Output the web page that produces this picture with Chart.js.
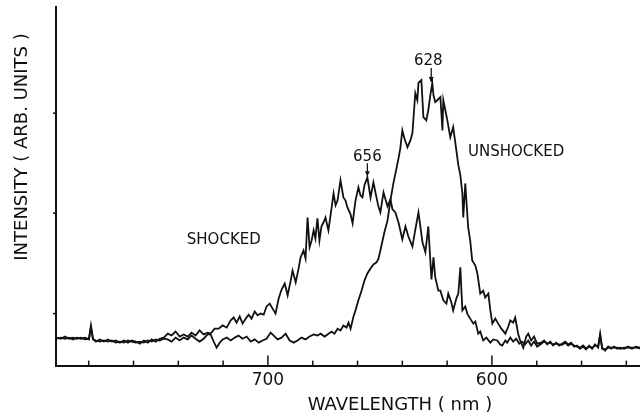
<!DOCTYPE html>
<html>
<head>
<meta charset="utf-8">
<script src="https://cdn.jsdelivr.net/npm/chart.js@4.4.1/dist/chart.umd.min.js"></script>
<style>
  html, body { margin: 0; padding: 0; background: #fff; }
  #wrap { width: 640px; height: 420px; }
</style>
</head>
<body>
<div id="wrap"><canvas id="spec" width="640" height="420"></canvas></div>
<script>
// Eje x: longitud de onda (nm), invertido
const xTickValues = [780, 760, 740, 720, 700, 680, 660, 640, 620, 600, 580, 560, 540];
const xLabeled = [700, 600];
const yTickValues = [14.5, 42.5, 70.4];

// Espectro SHOCKED
const shockedWl = [
  794.1, 792.4, 790.6, 788.8, 787.0, 785.3, 783.5, 781.7, 779.9, 779.0, 778.1, 776.8, 775.0, 773.2, 771.4,
  769.7, 767.9, 766.1, 764.3, 762.5, 760.8, 759.0, 757.2, 755.4, 753.6, 751.9, 750.1, 748.3, 746.5,
  744.7, 743.0, 741.2, 739.4, 737.6, 735.8, 734.1, 732.3, 730.5, 728.7, 726.9, 725.6, 723.8, 722.0, 720.2,
  718.4, 716.6, 715.3, 714.0, 712.6, 711.3, 709.9, 708.6, 707.3, 705.9, 704.6, 703.3, 701.9, 700.6, 699.2,
  697.9, 696.6, 695.2, 693.9, 692.5, 691.2, 689.9, 689.0, 687.6, 686.3, 685.4, 684.1, 683.2, 682.3, 681.4,
  680.5, 679.6, 678.8, 677.9, 677.0, 676.1, 675.2, 674.3, 673.0, 672.1, 670.7, 669.8, 668.9, 667.6, 666.3,
  665.4, 664.5, 663.1, 662.2, 660.9, 659.6, 658.7, 657.8, 656.9, 655.6, 654.2, 652.9, 652.0, 650.7, 649.8,
  648.4, 646.6, 645.3, 644.4, 643.1, 641.7, 640.0, 638.6, 637.3, 635.5, 634.2, 632.8, 631.0, 629.7, 628.4,
  627.5, 627.0, 626.1, 625.3, 623.9, 623.0, 621.7, 620.3, 619.5, 618.1, 617.3, 615.9, 615.0, 614.1, 613.2,
  611.9, 611.0, 609.7, 608.3, 607.4, 606.1, 605.2, 603.9, 602.5, 600.7, 599.4, 597.6, 596.3, 595.4, 594.0,
  593.2, 591.8, 590.5, 589.2, 587.8, 586.5, 585.2, 583.8, 582.5, 581.2, 579.8,
  578.0, 576.7, 575.3, 574.0, 572.7, 571.3, 570.0, 568.7, 567.3, 566.0, 564.7, 563.3, 562.0, 560.7, 559.3,
  558.0, 556.6, 555.3, 554.0, 552.6, 551.7, 550.8, 549.5, 548.1, 546.8, 545.5, 544.1, 542.8, 541.0, 539.2,
  537.5, 535.7, 533.9
];
const shockedI = [
  7.8, 7.5, 8.1, 7.5, 7.8, 7.5, 7.8, 7.3, 7.5, 11.2, 7.5, 6.7, 7.3, 6.7, 7.3,
  6.7, 7.0, 6.4, 7.0, 6.4, 7.0, 6.7, 6.1, 7.0, 6.4, 7.3, 6.7, 7.5, 7.8,
  8.9, 8.4, 9.5, 8.1, 8.7, 8.1, 9.2, 8.4, 9.8, 8.7, 9.2, 8.9, 10.3, 10.3, 11.2,
  10.6, 12.6, 13.4, 12.0, 13.7, 11.7, 13.1, 14.2, 13.1, 15.1, 14.0, 14.5, 14.2, 16.5, 17.3,
  15.9, 14.5, 18.7, 21.2, 22.9, 19.6, 23.5, 26.5, 23.2, 27.1, 30.2, 32.1, 29.9, 41.3, 33.0,
  34.9, 37.7, 35.5, 41.1, 34.9, 38.8, 39.9, 41.3, 37.7, 41.6, 48.0, 44.7, 46.1, 51.7, 46.9,
  46.1, 44.1, 42.2, 39.7, 46.1, 49.7, 47.5, 46.9, 50.3, 52.5, 46.9, 51.1, 48.3, 44.4, 42.7,
  48.3, 44.4, 46.4, 43.6, 42.7, 39.9, 35.2, 38.8, 36.0, 33.2, 37.9, 42.7, 34.4, 31.6, 38.8,
  29.3, 24.0, 30.2, 24.6, 20.9, 20.9, 18.2, 17.3, 20.1, 17.6, 15.4, 18.7, 20.1, 27.4, 15.4,
  16.5, 14.5, 13.1, 11.7, 12.3, 8.9, 9.5, 7.0, 7.8, 6.4, 7.3, 7.0, 5.9, 5.6, 7.0,
  6.4, 7.8, 6.7, 7.5, 6.1, 6.7, 5.9, 7.0, 5.6, 6.7, 5.3,
  6.1, 6.7, 6.2, 6.4, 5.9, 6.1, 5.9, 5.8, 6.4, 5.6, 6.1, 5.6, 5.3, 5.0, 5.6,
  4.8, 5.3, 5.0, 5.6, 5.3, 8.4, 4.7, 4.5, 5.0, 5.0, 5.0, 5.0, 4.7, 5.0, 5.0,
  5.0, 5.0, 4.8
];

// Espectro UNSHOCKED
const unshockedWl = [
  794.1, 792.4, 790.6, 788.8, 787.0, 785.3, 783.5, 781.7, 779.9, 779.0, 778.1, 776.8, 775.0, 773.2, 771.4,
  769.7, 767.9, 766.1, 764.3, 762.5, 760.8, 759.0, 757.2, 755.4, 753.6, 751.9, 750.1, 748.3, 746.5,
  744.7, 743.0, 741.2, 739.4, 737.6, 735.8, 734.1, 732.3, 730.5, 728.7, 726.9, 725.6, 724.2, 722.9, 721.5,
  720.2, 718.4, 716.6, 714.8, 713.1, 711.3, 709.5, 707.7, 705.9, 704.1, 702.4, 700.6, 698.8, 697.5, 695.7,
  693.9, 692.1, 690.3, 688.5, 686.8, 685.0, 683.2, 681.4, 679.6, 677.9, 676.5, 674.7, 673.4, 671.6, 670.3,
  668.9, 667.6, 666.3, 664.9, 664.0, 663.1, 661.8, 660.9, 659.6, 658.2, 656.9, 655.6, 654.2, 652.9, 651.5,
  650.6, 649.3, 648.0, 646.6, 645.3, 644.0, 642.6, 641.7, 640.9, 640.0, 639.1, 637.7, 636.4, 635.5, 634.6,
  634.2, 633.3, 632.8, 631.5, 631.0, 630.6, 629.3, 628.4, 627.5, 626.6, 626.1, 625.3, 624.4, 623.0, 622.1,
  621.7, 620.8, 619.9, 618.6, 617.3, 616.3, 615.0, 614.1, 613.2, 612.8, 611.9, 611.4, 610.6, 609.7, 608.8,
  607.4, 606.5, 605.2, 603.9, 603.0, 601.6, 600.7, 599.8, 598.5, 597.2, 595.8, 594.0, 592.7, 591.8, 590.5,
  589.6, 588.3, 587.4, 586.0, 584.7, 583.8, 582.5, 581.2, 579.8,
  578.0, 576.7, 575.3, 574.0, 572.7, 571.3, 570.0, 568.7, 567.3, 566.0, 564.7, 563.3, 562.0, 560.7, 559.3,
  558.0, 556.6, 555.3, 554.0, 552.6, 551.7, 550.8, 549.5, 548.1, 546.8, 545.5, 544.1, 542.8, 541.0, 539.2,
  537.5, 535.7, 533.9
];
const unshockedI = [
  7.5, 7.8, 7.5, 7.8, 7.3, 7.8, 7.5, 7.8, 7.3, 10.6, 7.3, 7.0, 6.7, 7.0, 6.7,
  7.0, 6.4, 6.7, 6.4, 7.0, 6.7, 6.4, 6.7, 6.4, 7.0, 6.7, 7.3, 7.0, 7.5,
  7.3, 6.7, 7.8, 7.0, 7.8, 7.3, 8.4, 7.5, 6.7, 7.5, 8.7, 8.7, 6.7, 5.0, 6.4,
  7.3, 7.8, 7.0, 7.8, 8.4, 7.5, 8.1, 6.7, 7.3, 6.4, 7.0, 7.5, 9.2, 8.4, 7.3,
  7.8, 8.9, 7.0, 6.4, 7.0, 7.8, 7.3, 8.1, 8.7, 8.4, 8.9, 8.1, 8.7, 9.5, 8.9,
  10.3, 9.8, 11.2, 10.6, 12.0, 10.3, 13.7, 15.4, 18.2, 20.9, 23.7, 25.7, 27.1, 28.2, 28.8,
  29.9, 33.5, 37.2, 40.5, 46.1, 50.8, 55.0, 57.8, 60.6, 65.6, 63.4, 60.9, 62.8, 64.8, 72.6,
  76.0, 74.0, 78.8, 79.6, 74.0, 69.3, 68.4, 71.2, 75.4, 78.8, 75.4, 73.5, 74.0, 74.9, 65.6,
  74.0, 71.2, 68.4, 63.7, 66.5, 62.0, 55.9, 53.1, 48.0, 41.3, 50.8, 46.1, 38.5, 34.9, 29.3,
  27.9, 25.7, 20.1, 20.9, 19.0, 20.1, 15.4, 11.7, 13.1, 11.7, 10.3, 8.9, 10.9, 12.6, 12.0,
  13.4, 8.9, 7.0, 5.0, 8.1, 8.9, 7.0, 8.1, 6.1,
  6.4, 7.0, 5.9, 6.7, 5.6, 6.4, 5.6, 6.1, 6.7, 5.9, 6.4, 5.3, 5.6, 4.7, 5.3,
  4.5, 5.6, 4.7, 5.9, 5.0, 8.9, 5.0, 4.2, 5.3, 4.7, 5.3, 4.7, 5.0, 4.7, 5.3,
  4.7, 5.3, 5.0
];

// Textos sobre el gráfico (coordenadas de datos)
const notes = [
  { text: "SHOCKED", wl: 719.7, y: 34.9 },
  { text: "UNSHOCKED", wl: 589.2, y: 59.5 },
  { text: "656", wl: 655.6, y: 58.1 },
  { text: "628", wl: 628.4, y: 84.9 }
];
const arrows = [
  { wl: 655.6, from: 56.4, to: 52.8 },
  { wl: 627.1, from: 83.0, to: 79.1 }
];

const FONT = "'DejaVu Sans', 'Liberation Sans', sans-serif";

const decoPlugin = {
  id: "deco",
  afterDraw(chart) {
    const ctx = chart.ctx;
    const xs = chart.scales.x;
    const ys = chart.scales.y;
    const area = chart.chartArea;
    ctx.save();
    ctx.strokeStyle = "#111";
    ctx.fillStyle = "#111";

    // marcas hacia dentro en el eje x
    ctx.lineWidth = 1.5;
    xs.ticks.forEach((t) => {
      const px = xs.getPixelForValue(t.value);
      const len = xLabeled.includes(t.value) ? 10 : 5;
      ctx.beginPath();
      ctx.moveTo(px, area.bottom);
      ctx.lineTo(px, area.bottom - len);
      ctx.stroke();
    });
    // marcas pequeñas en el eje y
    ys.ticks.forEach((t) => {
      const py = ys.getPixelForValue(t.value);
      ctx.beginPath();
      ctx.moveTo(area.left - 3, py);
      ctx.lineTo(area.left, py);
      ctx.stroke();
    });

    // textos
    ctx.textAlign = "center";
    ctx.textBaseline = "middle";
    notes.forEach((n) => {
      ctx.font = "15px " + FONT;
      ctx.fillText(n.text, xs.getPixelForValue(n.wl), ys.getPixelForValue(n.y));
    });

    // flechas
    ctx.lineWidth = 1.3;
    arrows.forEach((a) => {
      const px = xs.getPixelForValue(a.wl);
      const y1 = ys.getPixelForValue(a.from);
      const y2 = ys.getPixelForValue(a.to);
      ctx.beginPath();
      ctx.moveTo(px, y1);
      ctx.lineTo(px, y2);
      ctx.stroke();
      ctx.beginPath();
      ctx.moveTo(px - 2.5, y2 - 5);
      ctx.lineTo(px + 2.5, y2 - 5);
      ctx.lineTo(px, y2);
      ctx.closePath();
      ctx.fill();
    });

    // títulos de los ejes
    ctx.font = "18px " + FONT;
    ctx.fillText("WAVELENGTH ( nm )", 400, 405);
    ctx.translate(22, 147);
    ctx.rotate(-Math.PI / 2);
    ctx.fillText("INTENSITY ( ARB. UNITS )", 0, 0);
    ctx.restore();
  }
};

function toPoints(wl, vals) {
  return wl.map((w, i) => ({ x: w, y: vals[i] }));
}

const ctx = document.getElementById("spec").getContext("2d");
new Chart(ctx, {
  type: "line",
  data: {
    datasets: [
      {
        label: "SHOCKED",
        data: toPoints(shockedWl, shockedI),
        borderColor: "#111",
        borderWidth: 1.8,
        pointRadius: 0,
        tension: 0,
        fill: false
      },
      {
        label: "UNSHOCKED",
        data: toPoints(unshockedWl, unshockedI),
        borderColor: "#111",
        borderWidth: 1.8,
        pointRadius: 0,
        tension: 0,
        fill: false
      }
    ]
  },
  options: {
    responsive: false,
    animation: false,
    devicePixelRatio: 1,
    layout: { padding: { left: 56, top: 7, right: 0, bottom: 24 } },
    plugins: {
      legend: { display: false },
      tooltip: { enabled: false }
    },
    scales: {
      x: {
        type: "linear",
        reverse: true,
        min: 533.9,
        max: 794.6,
        afterBuildTicks: (scale) => {
          scale.ticks = xTickValues.map((v) => ({ value: v }));
        },
        grid: { display: false, drawTicks: false },
        border: { display: true, color: "#111", width: 2 },
        ticks: {
          autoSkip: false,
          maxRotation: 0,
          padding: 5,
          color: "#111",
          font: { family: FONT, size: 17 },
          callback: (v) => (xLabeled.includes(v) ? String(v) : "")
        }
      },
      y: {
        min: 0,
        max: 100,
        afterBuildTicks: (scale) => {
          scale.ticks = yTickValues.map((v) => ({ value: v }));
        },
        grid: { display: false, drawTicks: false },
        border: { display: true, color: "#111", width: 2 },
        ticks: { display: false }
      }
    }
  },
  plugins: [decoPlugin]
});
</script>
</body>
</html>
